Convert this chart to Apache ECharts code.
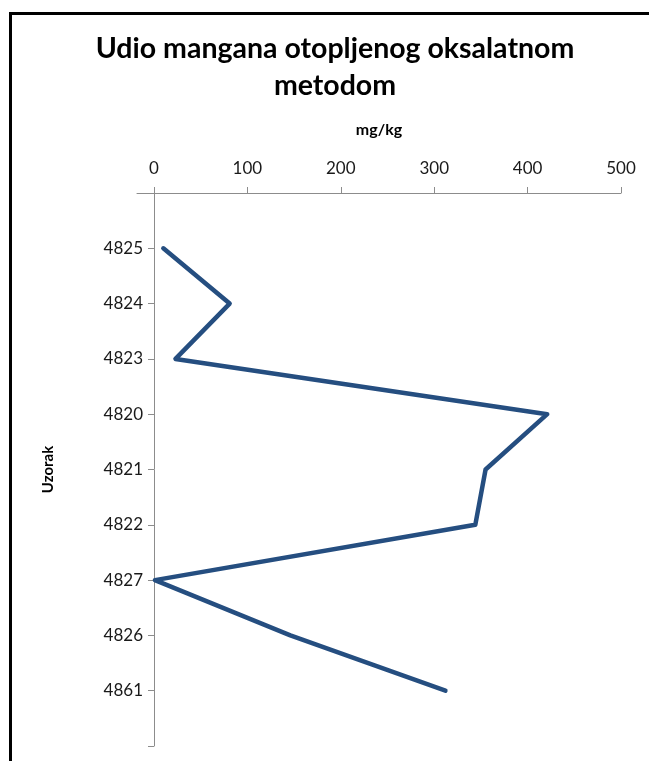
<!DOCTYPE html>
<html>
<head>
<meta charset="utf-8">
<script src="https://cdn.jsdelivr.net/npm/echarts@6/dist/echarts.min.js"></script>
<style>
html,body{margin:0;padding:0;background:#fff;}
#chart{width:649px;height:761px;}
</style>
</head>
<body>
<div id="chart"></div>
<script>
var titleText = 'Udio mangana otopljenog oksalatnom\nmetodom';
var xAxisName = 'mg/kg';
var yAxisName = 'Uzorak';
var categories = ['4825', '4824', '4823', '4820', '4821', '4822', '4827', '4826', '4861'];
var values = [10, 81, 23, 421, 355, 344, 1, 146, 312];
var xTicks = [0, 100, 200, 300, 400, 500];

var axisCats = [''].concat(categories, ['']);
var axisVals = [null].concat(values, [null]);

var chart = echarts.init(document.getElementById('chart'));
chart.setOption({
  animation: false,
  backgroundColor: '#fff',
  title: {
    text: titleText,
    left: 330,
    top: 25,
    textAlign: 'center',
    textStyle: {
      fontFamily: 'Lato',
      fontWeight: 'bold',
      fontSize: 28.5,
      lineHeight: 37,
      color: '#000'
    }
  },
  graphic: [{
    type: 'rect',
    shape: {x: 10.5, y: 13.5, width: 800, height: 900},
    style: {fill: 'none', stroke: '#000', lineWidth: 3},
    silent: true
  }],
  grid: {left: 137, right: 28, top: 193, bottom: 15, containLabel: false},
  xAxis: {
    type: 'value',
    position: 'top',
    min: -18.2,
    max: 500,
    name: xAxisName,
    nameLocation: 'middle',
    nameGap: 55,
    nameTextStyle: {fontFamily: 'Lato', fontWeight: 'bold', fontSize: 16, color: '#000'},
    axisLine: {show: true, lineStyle: {color: '#8c8c8c', width: 1}},
    axisTick: {show: true, length: 6, customValues: xTicks, lineStyle: {color: '#8c8c8c'}},
    axisLabel: {customValues: xTicks, fontFamily: 'Lato', fontSize: 17, color: '#1a1a1a', margin: 16},
    splitLine: {show: false}
  },
  yAxis: {
    type: 'category',
    inverse: true,
    boundaryGap: false,
    data: axisCats,
    name: yAxisName,
    nameLocation: 'middle',
    nameGap: 81,
    nameRotate: 90,
    nameTextStyle: {fontFamily: 'Lato', fontWeight: 'bold', fontSize: 15, color: '#000'},
    axisLine: {show: true, onZero: true, lineStyle: {color: '#8c8c8c', width: 1}},
    axisTick: {show: true, length: 6, interval: 0, lineStyle: {color: '#8c8c8c'}},
    axisLabel: {interval: 0, fontFamily: 'Lato', fontSize: 17, color: '#1a1a1a', margin: -6},
    splitLine: {show: false}
  },
  series: [{
    type: 'line',
    data: axisVals,
    showSymbol: false,
    symbol: 'none',
    connectNulls: false,
    lineStyle: {color: '#254E80', width: 4.5, join: 'round', cap: 'round'},
    itemStyle: {color: '#254E80'}
  }]
});
</script>
</body>
</html>
